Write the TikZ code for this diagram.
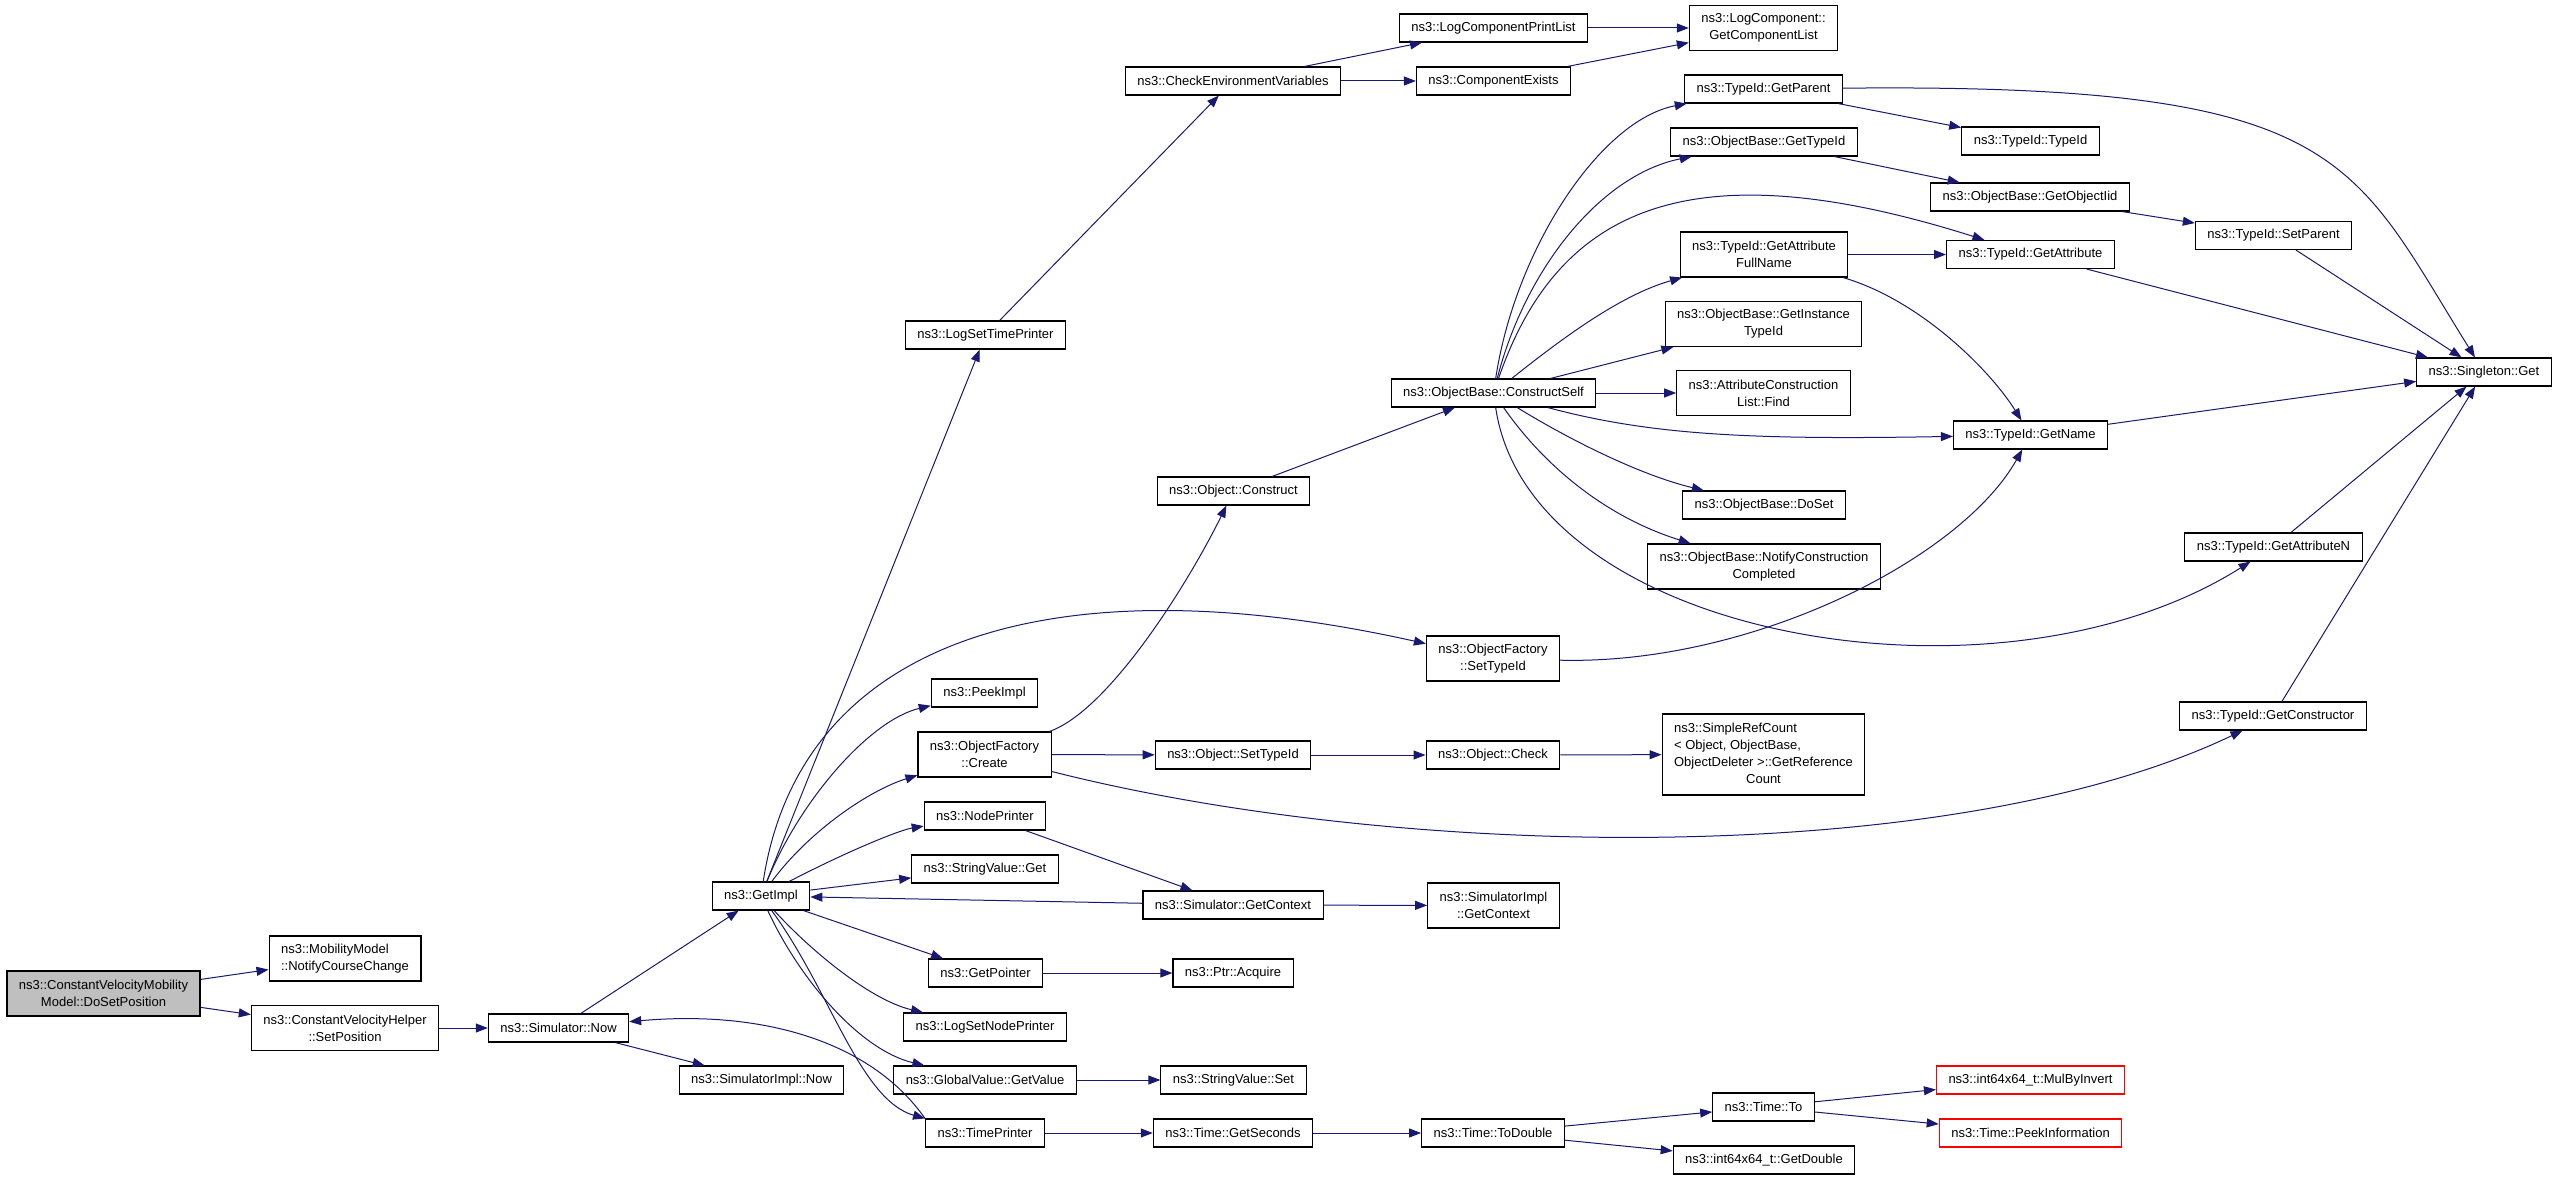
\documentclass[tikz,border=0pt]{standalone}
\usepackage{fontspec}
\setmainfont{Liberation Sans}
\usepackage{tikz}
\usetikzlibrary{arrows.meta}
\definecolor{edge_blue}{RGB}{25,25,112}
\definecolor{node_grey}{RGB}{191,191,191}
\definecolor{node_red}{RGB}{255,0,0}

\begin{document}
\begin{tikzpicture}[x=1pt, y=-1pt,
    font=\fontsize{13}{17}\selectfont,
    fn/.style={draw=black, line width=1.1pt, fill=white, inner xsep=12pt, inner ysep=2pt, minimum height=28pt},
    fntwo/.style={fn, align=center, minimum height=45pt},
    fnred/.style={fn, draw=node_red},
    call/.style={edge_blue, line width=1pt, -{Triangle[length=12pt,width=9pt]}}]
    \protect\fill[white] (0,0) rectangle (2557,1180);
    \protect\useasboundingbox (0,0) rectangle (2557,1180);
    % Functions
    \protect\node[fntwo, fill=node_grey] (do_set_pos) at (103.5,993.5) {ns3::ConstantVelocityMobility\\Model::DoSetPosition};
    \protect\node[fntwo, align=left] (course_change) at (345,958.5) {ns3::MobilityModel\\::NotifyCourseChange};
    \protect\node[fntwo] (helper_set_pos) at (345,1028) {ns3::ConstantVelocityHelper\\::SetPosition};
    \protect\node[fn] (sim_now) at (558.5,1028) {ns3::Simulator::Now};
    \protect\node[fn] (get_impl) at (761,896) {ns3::GetImpl};
    \protect\node[fn] (simimpl_now) at (761.5,1080) {ns3::SimulatorImpl::Now};
    \protect\node[fn] (log_set_tp) at (985.5,335) {ns3::LogSetTimePrinter};
    \protect\node[fn] (peek_impl) at (984.5,693) {ns3::PeekImpl};
    \protect\node[fntwo] (of_create) at (984.5,754.5) {ns3::ObjectFactory\\::Create};
    \protect\node[fn] (node_printer) at (985,816) {ns3::NodePrinter};
    \protect\node[fn] (sv_get) at (985,869) {ns3::StringValue::Get};
    \protect\node[fn] (get_pointer) at (985.5,973) {ns3::GetPointer};
    \protect\node[fn] (log_set_np) at (985,1027) {ns3::LogSetNodePrinter};
    \protect\node[fn] (gv_get_value) at (985,1080) {ns3::GlobalValue::GetValue};
    \protect\node[fn] (time_printer) at (985,1133) {ns3::TimePrinter};
    \protect\node[fn] (check_env) at (1233,81) {ns3::CheckEnvironmentVariables};
    \protect\node[fn] (obj_construct) at (1233.5,491) {ns3::Object::Construct};
    \protect\node[fn] (obj_set_tid) at (1233,755) {ns3::Object::SetTypeId};
    \protect\node[fn] (sim_get_ctx) at (1233,905) {ns3::Simulator::GetContext};
    \protect\node[fn] (ptr_acquire) at (1233,973) {ns3::Ptr::Acquire};
    \protect\node[fn] (sv_set) at (1233.5,1080) {ns3::StringValue::Set};
    \protect\node[fn] (get_seconds) at (1233,1133) {ns3::Time::GetSeconds};
    \protect\node[fn] (log_cpl) at (1493.5,28) {ns3::LogComponentPrintList};
    \protect\node[fn] (comp_exists) at (1493.5,81) {ns3::ComponentExists};
    \protect\node[fn] (construct_self) at (1493.5,393) {ns3::ObjectBase::ConstructSelf};
    \protect\node[fntwo] (of_set_tid) at (1493,658.5) {ns3::ObjectFactory\\::SetTypeId};
    \protect\node[fn] (obj_check) at (1493,755) {ns3::Object::Check};
    \protect\node[fntwo] (simimpl_get_ctx) at (1493.5,905.5) {ns3::SimulatorImpl\\::GetContext};
    \protect\node[fn] (to_double) at (1493,1133) {ns3::Time::ToDouble};
    \protect\node[fntwo] (get_comp_list) at (1763.5,28) {ns3::LogComponent::\\GetComponentList};
    \protect\node[fn] (tid_get_parent) at (1763.5,89) {ns3::TypeId::GetParent};
    \protect\node[fn] (ob_get_tid) at (1764,142) {ns3::ObjectBase::GetTypeId};
    \protect\node[fntwo] (tid_get_attr_fn) at (1764,254.5) {ns3::TypeId::GetAttribute\\FullName};
    \protect\node[fntwo] (ob_get_itid) at (1763.5,324) {ns3::ObjectBase::GetInstance\\TypeId};
    \protect\node[fntwo] (acl_find) at (1763.5,393) {ns3::AttributeConstruction\\List::Find};
    \protect\node[fn] (ob_do_set) at (1764,505) {ns3::ObjectBase::DoSet};
    \protect\node[fntwo] (notify_cc) at (1764,566.5) {ns3::ObjectBase::NotifyConstruction\\Completed};
    \protect\node[fn, minimum height=81pt] (ref_count) at (1763.5,754.5) {\begin{tabular}{@{}l@{}}ns3::SimpleRefCount\\< Object, ObjectBase,\\ ObjectDeleter >::GetReference\\\multicolumn{1}{@{}c@{}}{Count}\end{tabular}};
    \protect\node[fn] (time_to) at (1763.5,1107) {ns3::Time::To};
    \protect\node[fn] (get_double) at (1764,1160) {ns3::int64x64\_t::GetDouble};
    \protect\node[fn] (tid_tid) at (2030.5,141) {ns3::TypeId::TypeId};
    \protect\node[fn] (ob_get_oiid) at (2030,197) {ns3::ObjectBase::GetObjectIid};
    \protect\node[fn] (tid_get_attr) at (2030.5,254.5) {ns3::TypeId::GetAttribute};
    \protect\node[fn] (tid_get_name) at (2030.5,435) {ns3::TypeId::GetName};
    \protect\node[fnred] (mul_by_invert) at (2030.5,1080) {ns3::int64x64\_t::MulByInvert};
    \protect\node[fnred] (peek_info) at (2030.5,1133) {ns3::Time::PeekInformation};
    \protect\node[fn] (tid_set_parent) at (2273.5,235.5) {ns3::TypeId::SetParent};
    \protect\node[fn] (tid_get_attr_n) at (2273.5,547) {ns3::TypeId::GetAttributeN};
    \protect\node[fn] (tid_get_ctor) at (2273,716) {ns3::TypeId::GetConstructor};
    \protect\node[fn] (singleton_get) at (2484,372) {ns3::Singleton::Get};
    % Calls from DoSetPosition
    \protect\draw[call] (do_set_pos) -- (course_change);
    \protect\draw[call] (do_set_pos) -- (helper_set_pos);
    \protect\draw[call] (helper_set_pos) -- (sim_now);
    \protect\draw[call] (sim_now) -- (get_impl);
    \protect\draw[call] (sim_now) -- (simimpl_now);
    % Calls from GetImpl
    \protect\draw[call] (get_impl) -- (log_set_tp);
    \protect\draw[call] (get_impl) .. controls (800,640) and (1050,560) .. (of_set_tid);
    \protect\draw[call] (get_impl) .. controls (800,800) and (870,720) .. (peek_impl);
    \protect\draw[call] (get_impl) .. controls (810,830) and (870,790) .. (of_create);
    \protect\draw[call] (get_impl) .. controls (850,850) and (900,830) .. (node_printer);
    \protect\draw[call] (get_impl) -- (sv_get);
    \protect\draw[call] (sim_get_ctx) -- (get_impl);
    \protect\draw[call] (get_impl) -- (get_pointer);
    \protect\draw[call] (get_impl) .. controls (810,950) and (870,1000) .. (log_set_np);
    \protect\draw[call] (get_impl) .. controls (800,980) and (860,1050) .. (gv_get_value);
    \protect\draw[call] (get_impl) .. controls (830,990) and (860,1100) .. (time_printer.north west);
    \protect\draw[call] (time_printer.north west) .. controls (870,1040) and (760,1010) .. (sim_now);
    \protect\draw[call] (node_printer) -- (sim_get_ctx);
    \protect\draw[call] (sim_get_ctx) -- (simimpl_get_ctx);
    \protect\draw[call] (get_pointer) -- (ptr_acquire);
    \protect\draw[call] (gv_get_value) -- (sv_set);
    % Time
    \protect\draw[call] (time_printer) -- (get_seconds);
    \protect\draw[call] (get_seconds) -- (to_double);
    \protect\draw[call] (to_double) -- (time_to);
    \protect\draw[call] (to_double) -- (get_double);
    \protect\draw[call] (time_to) -- (mul_by_invert);
    \protect\draw[call] (time_to) -- (peek_info);
    % Log components
    \protect\draw[call] (log_set_tp) -- (check_env);
    \protect\draw[call] (check_env) -- (log_cpl);
    \protect\draw[call] (check_env) -- (comp_exists);
    \protect\draw[call] (log_cpl) -- (get_comp_list);
    \protect\draw[call] (comp_exists) -- (get_comp_list);
    % ObjectFactory
    \protect\draw[call] (of_create) .. controls (1110,710) and (1190,580) .. (obj_construct);
    \protect\draw[call] (of_create) -- (obj_set_tid);
    \protect\draw[call] (of_create) .. controls (1400,860) and (1950,870) .. (tid_get_ctor);
    \protect\draw[call] (obj_set_tid) -- (obj_check);
    \protect\draw[call] (obj_check) -- (ref_count);
    \protect\draw[call] (obj_construct) -- (construct_self);
    \protect\draw[call] (of_set_tid) .. controls (1750,665) and (1960,560) .. (tid_get_name);
    % ConstructSelf
    \protect\draw[call] (construct_self) .. controls (1515,250) and (1600,120) .. (tid_get_parent);
    \protect\draw[call] (construct_self) .. controls (1525,270) and (1600,175) .. (ob_get_tid);
    \protect\draw[call] (construct_self) .. controls (1560,200) and (1700,150) .. (tid_get_attr);
    \protect\draw[call] (construct_self) .. controls (1560,340) and (1620,295) .. (tid_get_attr_fn);
    \protect\draw[call] (construct_self) -- (ob_get_itid);
    \protect\draw[call] (construct_self) -- (acl_find);
    \protect\draw[call] (construct_self) .. controls (1650,435) and (1750,440) .. (tid_get_name);
    \protect\draw[call] (construct_self) .. controls (1570,440) and (1640,475) .. (ob_do_set);
    \protect\draw[call] (construct_self) .. controls (1540,460) and (1600,515) .. (notify_cc);
    \protect\draw[call] (construct_self) .. controls (1530,640) and (2000,720) .. (tid_get_attr_n);
    % TypeId
    \protect\draw[call] (tid_get_attr_fn) -- (tid_get_attr);
    \protect\draw[call] (tid_get_attr_fn) .. controls (1920,300) and (1990,370) .. (tid_get_name);
    \protect\draw[call] (tid_get_parent) -- (tid_tid);
    \protect\draw[call] (tid_get_parent) .. controls (2345,83) and (2350,157) .. (singleton_get);
    \protect\draw[call] (ob_get_tid) -- (ob_get_oiid);
    \protect\draw[call] (ob_get_oiid) -- (tid_set_parent);
    \protect\draw[call] (tid_set_parent) -- (singleton_get);
    \protect\draw[call] (tid_get_attr) -- (singleton_get);
    \protect\draw[call] (tid_get_name) -- (singleton_get);
    \protect\draw[call] (tid_get_attr_n) -- (singleton_get);
    \protect\draw[call] (tid_get_ctor) -- (singleton_get);
\end{tikzpicture}
\end{document}
